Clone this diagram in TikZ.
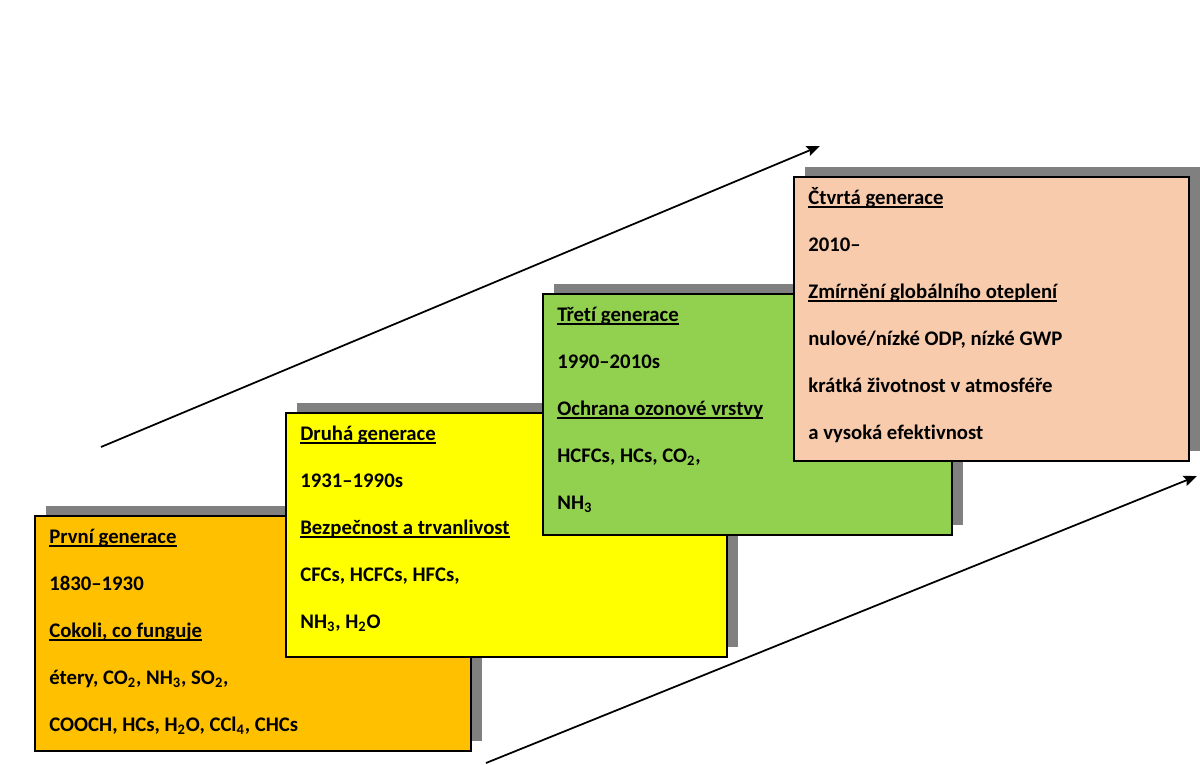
\documentclass[tikz,border=0pt]{standalone}
\usepackage{fontspec}
\setmainfont{Carlito}[Ligatures={TeX,NoCommon}]
\usepackage{tikz}
\usetikzlibrary{arrows.meta, shadows}
\definecolor{genorange}{RGB}{255,192,0}
\definecolor{genyellow}{RGB}{255,255,0}
\definecolor{gengreen}{RGB}{146,208,80}
\definecolor{genpeach}{RGB}{248,203,173}
\definecolor{shadowgray}{RGB}{128,128,128}
\newcommand{\genhead}[1]{\setbox0\hbox{#1}\rlap{\rule[-1.8pt]{\wd0}{0.75pt}}\box0}
\tikzset{
  genbox/.style={rectangle, draw=black, line width=0.8pt, inner sep=0pt,
    drop shadow={shadow xshift=0.22cm, shadow yshift=0.2cm, fill=shadowgray, opacity=1}},
  genline/.style={anchor=base west, inner sep=0pt, font=\fontsize{11.8}{14}\selectfont\bfseries},
  trend/.style={-{Stealth[length=7.5pt, width=6pt, inset=1.2pt]}, line width=1pt, color=black}
}

\begin{document}
\begin{tikzpicture}[x=0.02cm, y=-0.02cm]
  \useasboundingbox (0,0) rectangle (1200,764);
  % Trend arrows
  \coordinate (upstart) at (101,447);
  \coordinate (upend) at (820,146);
  \coordinate (lowstart) at (486,763);
  \coordinate (lowend) at (1197,476);
  \draw[trend] (upstart) -- (upend);
  \draw[trend] (lowstart) -- (lowend);
  % First generation
  \node[genbox, fill=genorange, minimum width=8.72cm, minimum height=4.7cm] (g1) at (253,633.5) {};
  \foreach \j/\txt in {0/{\genhead{První generace}}, 1/{1830–1930}, 2/{\genhead{Cokoli, co funguje}},
      3/{étery, CO\textsubscript{2}, NH\textsubscript{3}, SO\textsubscript{2},},
      4/{COOCH, HCs, H\textsubscript{2}O, CCl\textsubscript{4}, CHCs}}
    \node[genline] (g1l\j) at (49, {543.5+\j*47}) {\txt};
  % Second generation
  \node[genbox, fill=genyellow, minimum width=8.82cm, minimum height=4.88cm] (g2) at (506.5,535) {};
  \foreach \j/\txt in {0/{\genhead{Druhá generace}}, 1/{1931–1990s}, 2/{\genhead{Bezpečnost a trvanlivost}},
      3/{CFCs, HCFCs, HFCs,}, 4/{NH\textsubscript{3}, H\textsubscript{2}O}}
    \node[genline] (g2l\j) at (300, {440.5+\j*47}) {\txt};
  % Third generation
  \node[genbox, fill=gengreen, minimum width=8.18cm, minimum height=4.82cm] (g3) at (747.5,414.5) {};
  \foreach \j/\txt in {0/{\genhead{Třetí generace}}, 1/{1990–2010s}, 2/{\genhead{Ochrana ozonové vrstvy}},
      3/{HCFCs, HCs, CO\textsubscript{2},}, 4/{NH\textsubscript{3}}}
    \node[genline] (g3l\j) at (557, {321.5+\j*47}) {\txt};
  % Fourth generation
  \node[genbox, fill=genpeach, minimum width=7.9cm, minimum height=5.68cm] (g4) at (991.5,319) {};
  \foreach \j/\txt in {0/{\genhead{Čtvrtá generace}}, 1/{2010–}, 2/{\genhead{Zmírnění globálního oteplení}},
      3/{nulové/nízké ODP, nízké GWP}, 4/{krátká životnost v atmosféře}, 5/{a vysoká efektivnost}}
    \node[genline] (g4l\j) at (808, {204.5+\j*47}) {\txt};
\end{tikzpicture}
\end{document}
